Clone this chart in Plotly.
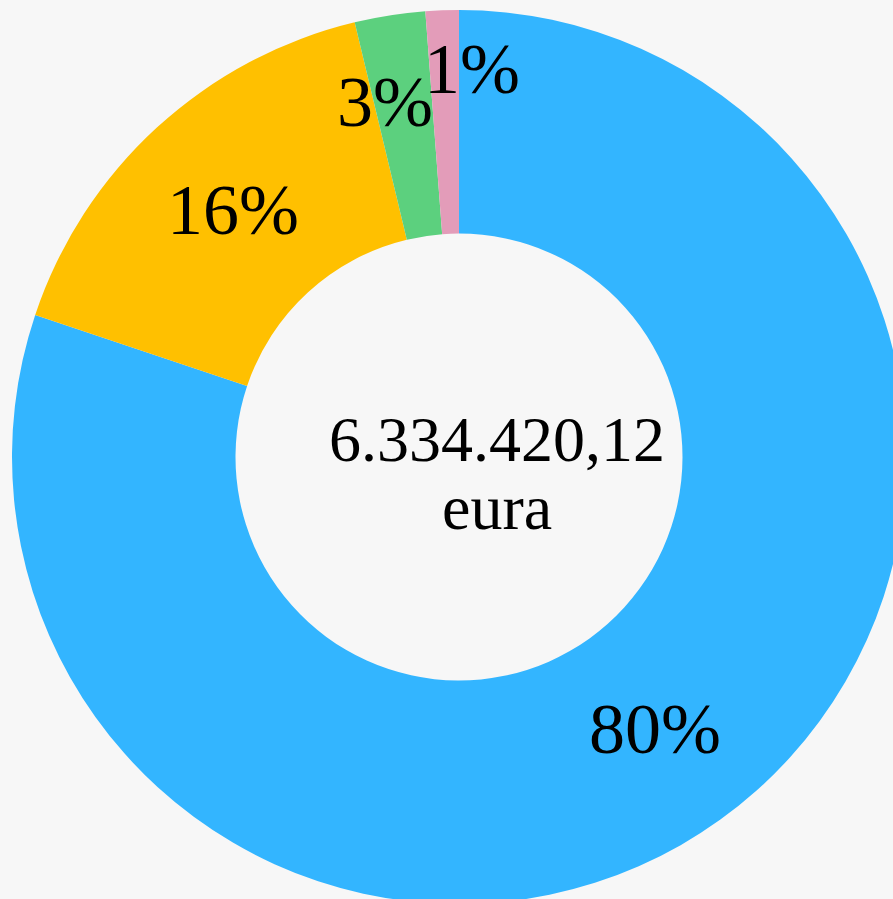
import plotly.graph_objects as go
import math

labels = ["A", "B", "C", "D"]
values = [5077000.00, 1019900.00, 161500.00, 76020.12]
colors = ["#33b5ff", "#ffc000", "#5cd07e", "#e39cb9"]
total_text = "6.334.420,12"
unit_text = "eura"

# styling: per-label pixel nudges (small slices' labels are pushed outward in the original)
label_dx = [0, 0, -22, 26]
label_dy = [0, 0, 24, 53]

BG = "#f7f7f7"
W, H = 906, 904            # figure larger than the window: the ring is cut at right/bottom
CX, CY, R = 459, 457, 447  # pie centre / radius in figure pixels
HOLE = 0.5

fig = go.Figure(go.Pie(
    labels=labels, values=values, hole=HOLE, sort=False, direction="clockwise",
    rotation=0, marker=dict(colors=colors, line=dict(width=0)),
    textinfo="none", hoverinfo="label+percent", showlegend=False,
    domain=dict(x=[(CX - R) / W, (CX + R) / W], y=[1 - (CY + R) / H, 1 - (CY - R) / H]),
))

font = "Liberation Serif"
total = sum(values)
cum = 0
ann = []
r_mid = R * (1 + HOLE) / 2
for v, dx, dy in zip(values, label_dx, label_dy):
    mid = (cum + v / 2) / total * 2 * math.pi
    cum += v
    px = CX + r_mid * math.sin(mid)
    py = CY - r_mid * math.cos(mid)
    ann.append(dict(x=px / W, y=1 - py / H, xref="paper", yref="paper", showarrow=False,
                    xanchor="center", yanchor="middle", xshift=dx, yshift=dy,
                    text=f"{round(v / total * 100)}%",
                    font=dict(family=font, size=72, color="black")))
ann.append(dict(x=CX / W, y=1 - CY / H, xref="paper", yref="paper", showarrow=False,
                xanchor="center", yanchor="middle", text=total_text, xshift=38, yshift=18,
                font=dict(family=font, size=64, color="black")))
ann.append(dict(x=CX / W, y=1 - CY / H, xref="paper", yref="paper", showarrow=False,
                xanchor="center", yanchor="middle", text=unit_text, xshift=38, yshift=-50,
                font=dict(family=font, size=64, color="black")))

fig.update_layout(width=W, height=H, margin=dict(l=0, r=0, t=0, b=0),
                  paper_bgcolor=BG, plot_bgcolor=BG, annotations=ann)

page_js = (
    "document.body.style.margin='0';"
    "document.body.style.overflow='hidden';"
    "document.documentElement.style.overflow='hidden';"
    f"document.body.style.background='{BG}';"
)
fig.write_html("out.html", post_script=page_js, config={"displayModeBar": False})
